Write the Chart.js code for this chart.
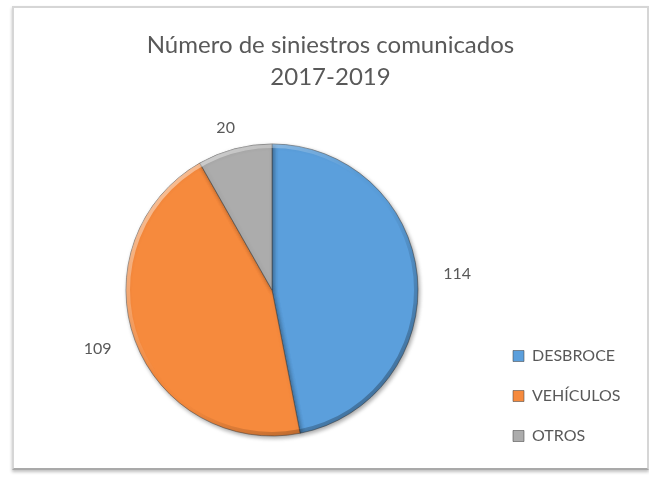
<!DOCTYPE html>
<html>
<head>
<meta charset="utf-8">
<title>Número de siniestros comunicados 2017-2019</title>
<script src="https://cdn.jsdelivr.net/npm/chart.js@4.4.1/dist/chart.umd.min.js"></script>
<style>
  html, body { margin: 0; padding: 0; background: #fff; }
  .frame {
    position: absolute; left: 12px; top: 6px;
    width: 633px; height: 460px;
    border: 2px solid #d6d6d6; border-bottom-color: #a9a9a9;
    box-shadow: 0 2px 3px rgba(0,0,0,0.25);
    background: #fff;
  }
  canvas { display: block; }
</style>
</head>
<body>
<div class="frame"><canvas id="siniestrosChart" width="633" height="460" style="width:633px;height:460px"></canvas></div>
<script>
// ---- Data ----
const categories = ['DESBROCE', 'VEHÍCULOS', 'OTROS'];
const siniestros = [114, 109, 20];
const titleLines = ['Número de siniestros comunicados', '2017-2019'];
const sliceColors = ['#5b9fdc', '#f68a3d', '#acacac'];

const textGray = '#595959';
const fontFamily = 'Lato, "Open Sans", sans-serif';

// ---- Shadow + rim to imitate the Excel bevel ----
const pieBevel = {
  id: 'pieBevel',
  beforeDatasetDraw(chart) {
    const ctx = chart.ctx;
    ctx.save();
    ctx.shadowColor = 'rgba(0,0,0,0.35)';
    ctx.shadowBlur = 4;
    ctx.shadowOffsetX = 1.5;
    ctx.shadowOffsetY = 2;
  },
  afterDatasetDraw(chart) {
    const ctx = chart.ctx;
    ctx.restore();
    const arc = chart.getDatasetMeta(0).data[0];
    if (!arc) return;
    const { x, y, outerRadius } = arc;
    const g = ctx.createLinearGradient(x - outerRadius, y - outerRadius, x + outerRadius, y + outerRadius);
    g.addColorStop(0, 'rgba(255,255,255,0.65)');
    g.addColorStop(0.45, 'rgba(255,255,255,0)');
    g.addColorStop(0.55, 'rgba(0,0,0,0)');
    g.addColorStop(1, 'rgba(0,0,0,0.4)');
    ctx.save();
    ctx.beginPath();
    ctx.arc(x, y, outerRadius - 2, 0, Math.PI * 2);
    ctx.lineWidth = 4;
    ctx.strokeStyle = g;
    ctx.stroke();
    ctx.restore();
  }
};

// ---- Value labels outside the slices ----
const outsideLabels = {
  id: 'outsideLabels',
  afterDatasetsDraw(chart) {
    const ctx = chart.ctx;
    const meta = chart.getDatasetMeta(0);
    ctx.save();
    ctx.font = '16px ' + fontFamily;
    ctx.fillStyle = textGray;
    ctx.textAlign = 'center';
    ctx.textBaseline = 'middle';
    meta.data.forEach((arc, i) => {
      const { x, y, startAngle, endAngle, outerRadius } = arc;
      const mid = (startAngle + endAngle) / 2;
      const text = String(siniestros[i]);
      const w = ctx.measureText(text).width;
      const lx = x + (outerRadius + 26 + w / 2) * Math.cos(mid);
      const ly = y + (outerRadius + 22) * Math.sin(mid);
      ctx.fillText(text, lx, ly);
    });
    ctx.restore();
  }
};

// ---- Legend takes less room in the layout than its text needs (as in Excel),
// so the pie and the title keep their places ----
const LEGEND_SLOT = 117;
const legendSlot = {
  id: 'legendSlot',
  beforeLayout(chart) {
    const lg = chart.legend;
    if (lg && !lg._slotPatched) {
      const fit = lg.fit.bind(lg);
      lg.fit = function () { fit(); this.width = Math.min(this.width, LEGEND_SLOT); };
      lg._slotPatched = true;
    }
  },
  afterLayout(chart) {
    const lg = chart.legend;
    if (lg) { lg.right = chart.width; lg.width = lg.right - lg.left; }
  }
};

const chart = new Chart(document.getElementById('siniestrosChart'), {
  type: 'pie',
  data: {
    labels: categories,
    datasets: [{
      data: siniestros,
      backgroundColor: sliceColors,
      borderColor: 'rgba(70,70,70,0.55)',
      borderWidth: 1,
      radius: 146,
    }]
  },
  options: {
    responsive: false,
    animation: false,
    layout: { padding: { left: 41, right: 41, top: 0, bottom: 0 } },
    plugins: {
      title: {
        display: true,
        text: titleLines,
        color: textGray,
        font: { family: fontFamily, size: 24, weight: 'normal', lineHeight: 1.333 },
        padding: { top: 21, bottom: 19 },
      },
      legend: {
        position: 'right',
        align: 'end',
        labels: {
          boxWidth: 11,
          boxHeight: 11,
          padding: 24,
          color: textGray,
          font: { family: fontFamily, size: 16 },
        }
      },
      tooltip: { enabled: false },
    }
  },
  plugins: [legendSlot, pieBevel, outsideLabels]
});
</script>
</body>
</html>
